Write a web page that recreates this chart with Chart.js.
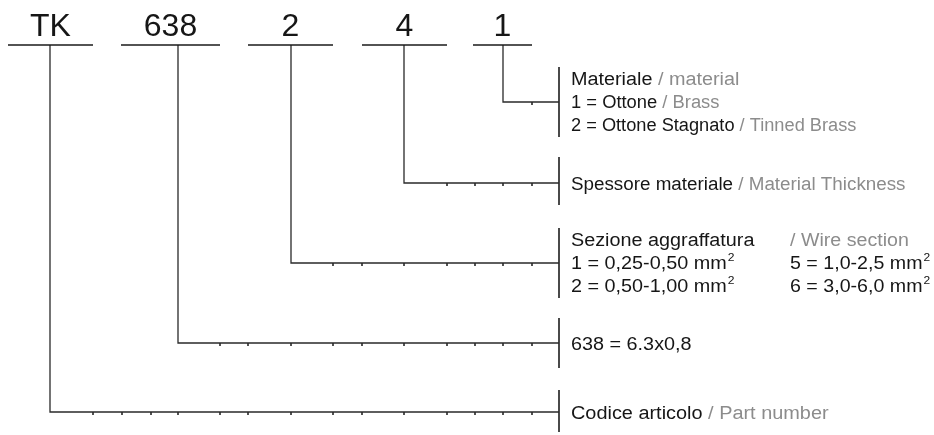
<!DOCTYPE html>
<html>
<head>
<meta charset="utf-8">
<script src="https://cdn.jsdelivr.net/npm/chart.js@4/dist/chart.umd.min.js"></script>
<style>
  html, body { margin: 0; padding: 0; background: #fff; }
  #wrap { width: 934px; height: 435px; }
</style>
</head>
<body>
<div id="wrap"><canvas id="schema" width="934" height="435"></canvas></div>
<script>
// ===== Codice articolo TK 638 2 4 1 =====
const codici = ['TK', '638', '2', '4', '1'];
const sottolineaDa = [8, 121, 248, 362, 473];
const sottolineaA = [93, 220, 333, 447, 532];
const richiamoX = [50, 178, 291, 404, 503];     // discesa verticale di ogni campo
const livelli = [412, 343, 263, 183, 102];      // quota della linea di richiamo
const graffaDa = [390, 318, 228, 157, 67];
const graffaA = [432, 368, 298, 205, 137];
const tacche = [93, 122, 151, 178, 220, 248, 291, 333, 362, 404, 447, 475, 503, 532];
const quotaCodici = 45;
const quotaGraffa = 559;

// testi: [testo, 0 = nero / 1 = grigio], "^2" = esponente, sx = larghezza relativa
const righe = [
  { x: 571, y: 85,  sx: 1.1,   parti: [['Materiale', 0], [' / material', 1]] },
  { x: 571, y: 108, sx: 1.02,  parti: [['1 = Ottone', 0], [' / Brass', 1]] },
  { x: 571, y: 131, sx: 1.012, parti: [['2 = Ottone Stagnato', 0], [' / Tinned Brass', 1]] },
  { x: 571, y: 190, sx: 1.045, parti: [['Spessore materiale', 0], [' / Material Thickness', 1]] },
  { x: 571, y: 246, sx: 1.1,   parti: [['Sezione aggraffatura', 0]] },
  { x: 790, y: 246, sx: 1.09,  parti: [['/ Wire section', 1]] },
  { x: 571, y: 269, sx: 1.1,   parti: [['1 = 0,25-0,50 mm^2', 0]] },
  { x: 790, y: 269, sx: 1.09,  parti: [['5 = 1,0-2,5 mm^2', 0]] },
  { x: 571, y: 292, sx: 1.1,   parti: [['2 = 0,50-1,00 mm^2', 0]] },
  { x: 790, y: 292, sx: 1.09,  parti: [['6 = 3,0-6,0 mm^2', 0]] },
  { x: 571, y: 350, sx: 1.1,   parti: [['638 = 6.3x0,8', 0]] },
  { x: 571, y: 419, sx: 1.105, parti: [['Codice articolo', 0], [' / Part number', 1]] }
];

const NERO = '#161616';
const GRIGIO = '#8c8c8c';
const FONT = '"Liberation Sans", Arial, sans-serif';

// =========================
// Dataset
// =========================
const datasets = [];

codici.forEach((c, i) => {
  const discesa = richiamoX[i];

  // sottolineatura del codice
  datasets.push({
    data: [{ x: sottolineaDa[i], y: quotaCodici }, { x: sottolineaA[i], y: quotaCodici }],
    showLine: true, borderColor: '#1a1a1a', borderWidth: 1.5, pointRadius: 0
  });

  // linea di richiamo
  datasets.push({
    data: [{ x: discesa, y: quotaCodici }, { x: discesa, y: livelli[i] }, { x: quotaGraffa, y: livelli[i] }],
    showLine: true, borderColor: '#2a2a2a', borderWidth: 1.3, pointRadius: 0
  });

  // graffa verticale
  datasets.push({
    data: [{ x: quotaGraffa, y: graffaDa[i] }, { x: quotaGraffa, y: graffaA[i] }],
    showLine: true, borderColor: '#4a4a4a', borderWidth: 2, pointRadius: 0
  });

  // tacche sotto la linea
  datasets.push({
    data: tacche.filter(t => t > discesa + 2 && t < quotaGraffa).map(t => ({ x: t, y: livelli[i] + 1.5 })),
    showLine: false, pointStyle: 'line', rotation: 90, pointRadius: 1.5,
    borderColor: '#1a1a1a', borderWidth: 1.5
  });
});

// =========================
// Testi
// =========================
function scriviRiga(ctx, x, y, sx, parti) {
  ctx.save();
  ctx.translate(x, y);
  ctx.scale(sx, 1);
  let pos = 0;
  parti.forEach(([testo, tono]) => {
    ctx.fillStyle = tono ? GRIGIO : NERO;
    testo.split('^').forEach((pezzo, k) => {
      if (k === 0) {
        ctx.font = '18px ' + FONT;
        ctx.fillText(pezzo, pos, 0);
        pos += ctx.measureText(pezzo).width;
      } else {
        ctx.font = '11px ' + FONT;
        ctx.fillText(pezzo, pos + 1, -8);
        pos += ctx.measureText(pezzo).width + 1;
      }
    });
  });
  ctx.restore();
}

const testiPlugin = {
  id: 'testi',
  afterDraw(chart) {
    const { ctx, scales } = chart;
    ctx.save();
    ctx.textBaseline = 'alphabetic';

    ctx.font = '32px ' + FONT;
    ctx.fillStyle = NERO;
    ctx.textAlign = 'center';
    codici.forEach((c, i) => {
      const centro = (sottolineaDa[i] + sottolineaA[i]) / 2;
      ctx.fillText(c, scales.x.getPixelForValue(centro), scales.y.getPixelForValue(36));
    });

    ctx.textAlign = 'left';
    righe.forEach(r => {
      scriviRiga(ctx, scales.x.getPixelForValue(r.x), scales.y.getPixelForValue(r.y), r.sx, r.parti);
    });
    ctx.restore();
  }
};

new Chart(document.getElementById('schema'), {
  type: 'scatter',
  data: { datasets },
  options: {
    responsive: false,
    devicePixelRatio: 1,
    animation: false,
    layout: { padding: 0, autoPadding: false },
    plugins: { legend: { display: false }, tooltip: { enabled: false } },
    scales: {
      x: { type: 'linear', min: 0, max: 934, display: false },
      y: { type: 'linear', min: 0, max: 435, reverse: true, display: false }
    }
  },
  plugins: [testiPlugin]
});
</script>
</body>
</html>
